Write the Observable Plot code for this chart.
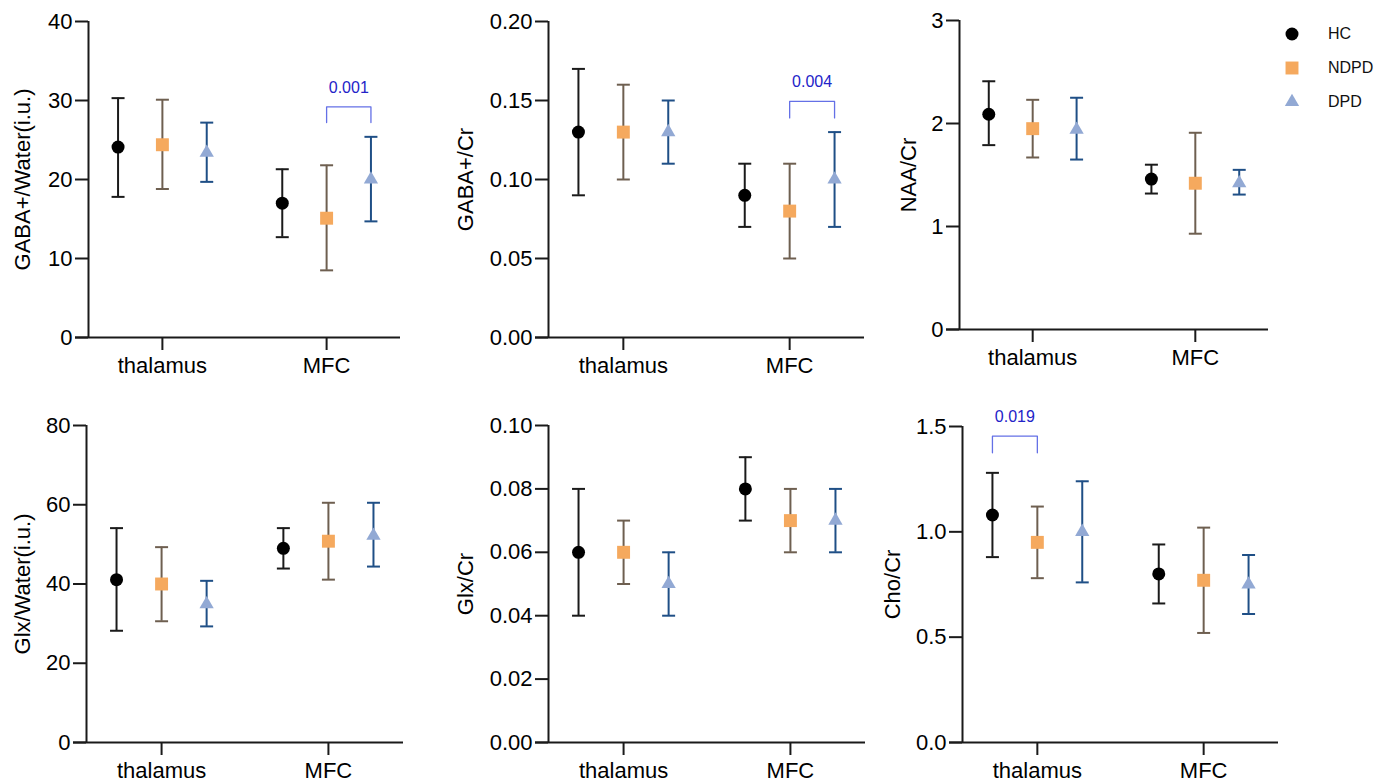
<!DOCTYPE html>
<html><head><meta charset="utf-8">
<script src="https://cdn.jsdelivr.net/npm/d3@7"></script>
<script src="https://cdn.jsdelivr.net/npm/@observablehq/plot@0.6"></script>
<style>
body{margin:0;background:#fff;}
#wrap{position:relative;width:1389px;height:784px;overflow:hidden;font-family:"Liberation Sans",Arial,sans-serif;background:#fff;}
#wrap svg.p{position:absolute;overflow:visible;}
#legend{position:absolute;left:1280px;top:20px;}
#legend .row{position:absolute;left:0;height:24px;display:flex;align-items:center;white-space:nowrap;font-size:16px;color:#111;}
#legend .row svg{width:24px;height:24px;margin-right:24px;}
</style></head><body><div id="wrap"><div id="legend"></div></div>
<script>
// ---- categories ----
const regions = ["thalamus", "MFC"];
const groups = ["HC", "NDPD", "DPD"];
// values ordered: thalamus HC, NDPD, DPD, MFC HC, NDPD, DPD
const gabaWaterMean = [24.1, 24.4, 23.4, 17.0, 15.1, 20.0];
const gabaWaterLow  = [17.8, 18.8, 19.7, 12.7, 8.5, 14.7];
const gabaWaterHigh = [30.3, 30.1, 27.2, 21.3, 21.8, 25.4];

const gabaCrMean = [0.13, 0.13, 0.13, 0.09, 0.08, 0.10];
const gabaCrLow  = [0.09, 0.10, 0.11, 0.07, 0.05, 0.07];
const gabaCrHigh = [0.17, 0.16, 0.15, 0.11, 0.11, 0.13];

const naaCrMean = [2.09, 1.95, 1.94, 1.46, 1.42, 1.42];
const naaCrLow  = [1.79, 1.67, 1.65, 1.32, 0.93, 1.31];
const naaCrHigh = [2.41, 2.23, 2.25, 1.60, 1.91, 1.55];

const glxWaterMean = [41.1, 40.0, 34.9, 49.0, 50.8, 52.2];
const glxWaterLow  = [28.2, 30.6, 29.3, 43.9, 41.1, 44.4];
const glxWaterHigh = [54.1, 49.3, 40.8, 54.1, 60.5, 60.5];

const glxCrMean = [0.06, 0.06, 0.05, 0.08, 0.07, 0.07];
const glxCrLow  = [0.04, 0.05, 0.04, 0.07, 0.06, 0.06];
const glxCrHigh = [0.08, 0.07, 0.06, 0.09, 0.08, 0.08];

const choCrMean = [1.08, 0.95, 1.00, 0.80, 0.77, 0.75];
const choCrLow  = [0.88, 0.78, 0.76, 0.66, 0.52, 0.61];
const choCrHigh = [1.28, 1.12, 1.24, 0.94, 1.02, 0.89];

// y tick labels
const ticksGabaWater = [0, 10, 20, 30, 40];
const ticksGabaCr = [0, 0.05, 0.10, 0.15, 0.20];
const ticksNaaCr = [0, 1, 2, 3];
const ticksGlxWater = [0, 20, 40, 60, 80];
const ticksGlxCr = [0, 0.02, 0.04, 0.06, 0.08, 0.10];
const ticksChoCr = [0, 0.5, 1.0, 1.5];

// significance brackets: [region, fromGroup, toGroup, legY, topY, textY, label]
const sigGabaWater = [["MFC", "NDPD", "DPD", 27.2, 29.2, 31.6, "0.001"]];
const sigGabaCr = [["MFC", "NDPD", "DPD", 0.139, 0.1494, 0.1616, "0.004"]];
const sigChoCr = [["thalamus", "HC", "NDPD", 1.375, 1.454, 1.544, "0.019"]];

// ---- styles ----
const FONT = '"Liberation Sans", Arial, Helvetica, sans-serif';
const FS = 22;
const axisColor = "#1a1a1a";
const fillColors = ["#000000", "#F5A95E", "#92A9D4"];
const barColors = ["#1a1a1a", "#6E5F50", "#1F4F86"];
const symbols = ["circle", "square", "triangle"];
const radii = [6.5, 7.3, 5.3];
const sigTextColor = "#2323C8";
const sigLineColor = "#6470E6";
const OFF = 0.27;
const XDOM = [0.55, 2.45];

const capSymbol = {
  draw(ctx, size) {
    const w = Math.sqrt(size) / 2;
    ctx.moveTo(-w, 0);
    ctx.lineTo(w, 0);
  }
};

const panels = [
  {label: "GABA+/Water(i.u.)", mean: gabaWaterMean, low: gabaWaterLow, high: gabaWaterHigh, ticks: ticksGabaWater, fmt: d3.format("d"), sig: sigGabaWater,
   left: 0, top: 0, width: 440, height: 400, mL: 88, mR: 40, mT: 21, mB: 63, labelDx: -66},
  {label: "GABA+/Cr", mean: gabaCrMean, low: gabaCrLow, high: gabaCrHigh, ticks: ticksGabaCr, fmt: d3.format(".2f"), sig: sigGabaCr,
   left: 440, top: 0, width: 440, height: 400, mL: 108, mR: 16, mT: 21, mB: 63, labelDx: -83},
  {label: "NAA/Cr", mean: naaCrMean, low: naaCrLow, high: naaCrHigh, ticks: ticksNaaCr, fmt: d3.format("d"), sig: [],
   left: 880, top: 0, width: 509, height: 400, mL: 79, mR: 121, mT: 20, mB: 71, labelDx: -51},
  {label: "Glx/Water(i.u.)", mean: glxWaterMean, low: glxWaterLow, high: glxWaterHigh, ticks: ticksGlxWater, fmt: d3.format("d"), sig: [],
   left: 0, top: 400, width: 440, height: 384, mL: 86, mR: 37, mT: 25, mB: 42, labelDx: -64},
  {label: "Glx/Cr", mean: glxCrMean, low: glxCrLow, high: glxCrHigh, ticks: ticksGlxCr, fmt: d3.format(".2f"), sig: [],
   left: 440, top: 400, width: 440, height: 384, mL: 108, mR: 15, mT: 25, mB: 42, labelDx: -83},
  {label: "Cho/Cr", mean: choCrMean, low: choCrLow, high: choCrHigh, ticks: ticksChoCr, fmt: d3.format(".1f"), sig: sigChoCr,
   left: 880, top: 400, width: 509, height: 384, mL: 82, mR: 111, mT: 26, mB: 42, labelDx: -70}
];

const xPos = (region, group) => regions.indexOf(region) + 1 + (groups.indexOf(group) - 1) * OFF;

const wrap = document.getElementById("wrap");

for (const p of panels) {
  const rows = [];
  regions.forEach((r, ri) => groups.forEach((g, gi) => {
    const k = ri * 3 + gi;
    rows.push({region: r, group: g, x: xPos(r, g), mean: p.mean[k], lo: p.low[k], hi: p.high[k]});
  }));
  const yMax = p.ticks[p.ticks.length - 1];
  const marks = [
    Plot.ruleY([0], {insetLeft: -13, stroke: axisColor, strokeWidth: 2}),
    Plot.ruleX([XDOM[0]], {y1: 0, y2: yMax, stroke: axisColor, strokeWidth: 2}),
    Plot.axisY({ticks: p.ticks, tickFormat: p.fmt, tickSize: 13, tickPadding: 3, stroke: axisColor, strokeWidth: 2, fill: "#000", fontSize: FS, label: null}),
    Plot.axisX({ticks: [1, 2], tickFormat: d => regions[d - 1], tickSize: 13, tickPadding: 7, stroke: axisColor, strokeWidth: 2, fill: "#000", fontSize: FS, label: null}),
    Plot.text([p.label], {frameAnchor: "left", textAnchor: "middle", lineAnchor: "middle", rotate: -90, dx: p.labelDx, fontSize: FS, fill: "#000"})
  ];
  groups.forEach((g, gi) => {
    const gr = rows.filter(d => d.group === g);
    marks.push(
      Plot.ruleX(gr, {x: "x", y1: "lo", y2: "hi", stroke: barColors[gi], strokeWidth: 2}),
      Plot.dot(gr, {x: "x", y: "hi", symbol: capSymbol, r: 7.33, stroke: barColors[gi], fill: "none", strokeWidth: 2}),
      Plot.dot(gr, {x: "x", y: "lo", symbol: capSymbol, r: 7.33, stroke: barColors[gi], fill: "none", strokeWidth: 2}),
      Plot.dot(gr, {x: "x", y: "mean", symbol: symbols[gi], r: radii[gi], fill: fillColors[gi], stroke: "none"})
    );
  });
  p.sig.forEach(([region, g1, g2, legY, topY, textY, label]) => {
    const x1 = xPos(region, g1), x2 = xPos(region, g2);
    const pts = [{x: x1, y: legY}, {x: x1, y: topY}, {x: x2, y: topY}, {x: x2, y: legY}];
    marks.push(
      Plot.line(pts, {x: "x", y: "y", stroke: sigLineColor, strokeWidth: 1.3}),
      Plot.text([{x: (x1 + x2) / 2, y: textY, label}], {x: "x", y: "y", text: "label", fill: sigTextColor, fontSize: 16})
    );
  });
  const svg = Plot.plot({
    width: p.width, height: p.height,
    marginLeft: p.mL, marginRight: p.mR, marginTop: p.mT, marginBottom: p.mB,
    x: {domain: XDOM},
    y: {domain: [0, yMax]},
    style: {fontFamily: FONT, fontSize: FS + "px", color: "#000", background: "transparent", overflow: "visible"},
    marks
  });
  svg.classList.add("p");
  svg.style.left = p.left + "px";
  svg.style.top = p.top + "px";
  wrap.appendChild(svg);
}

// legend
const legend = document.getElementById("legend");
const legendTops = [2, 36, 70];
groups.forEach((g, gi) => {
  const row = document.createElement("div");
  row.className = "row";
  row.style.top = legendTops[gi] + "px";
  const s = d3.create("svg").attr("viewBox", "-12 -12 24 24");
  const sym = {circle: d3.symbolCircle, square: d3.symbolSquare, triangle: d3.symbolTriangle}[symbols[gi]];
  s.append("path").attr("d", d3.symbol(sym, Math.PI * radii[gi] * radii[gi])()).attr("fill", fillColors[gi]);
  row.appendChild(s.node());
  const t = document.createElement("span");
  t.textContent = g;
  row.appendChild(t);
  legend.appendChild(row);
});
</script>
</body></html>
